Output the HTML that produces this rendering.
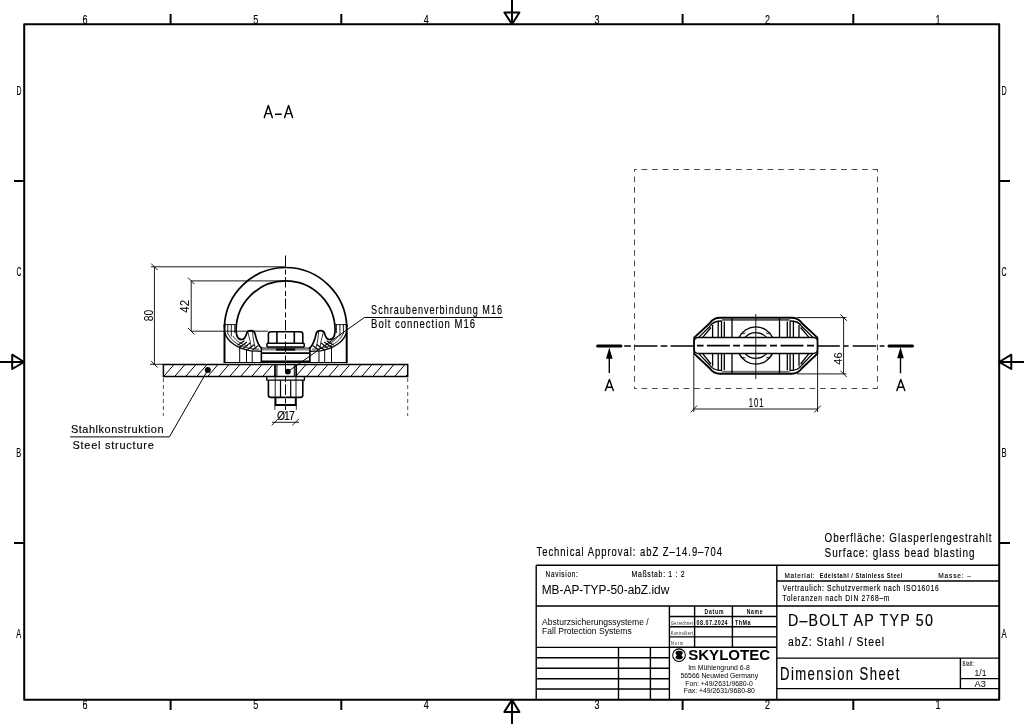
<!DOCTYPE html>
<html><head><meta charset="utf-8">
<style>
html,body{margin:0;padding:0;background:#fff;width:1024px;height:724px;overflow:hidden}
svg{display:block;will-change:transform}
text{font-family:"Liberation Sans",sans-serif;fill:#000}
</style></head>
<body>
<svg width="1024" height="724" viewBox="0 0 1024 724">
<rect width="1024" height="724" fill="#fff"/>

<g fill="none" stroke="#000" stroke-width="2" stroke-linejoin="round">
<rect x="24.2" y="24.2" width="975" height="675.5"/>
<path d="M170.6 14V24.2M341.3 14V24.2M682.6 14V24.2M853.3 14V24.2"/>
<path d="M170.6 699.7V710M341.3 699.7V710M682.6 699.7V710M853.3 699.7V710"/>
<path d="M14 181H24.2M14 543H24.2M999.2 181H1010M999.2 543H1010"/>
<path d="M512 0V24.2M504.4 12.5H519.4L512 24.2Z"/>
<path d="M512 724V699.7M504.4 711.9H519.4L512 699.7Z"/>
<path d="M0 362H24.2M12.2 354.7V369L24.2 362Z"/>
<path d="M1024 362H999.2M1011.3 354.7V369L999.2 362Z"/>
</g>
<g>
<text transform="translate(82.61,23.70) scale(0.7327827134225083,1)" x="0" y="0" textLength="8.32" lengthAdjust="spacing" font-size="12.35" stroke="#000" stroke-width="0.15" >6</text>
<text transform="translate(82.61,709.20) scale(0.7242619841966633,1)" x="0" y="0" textLength="8.42" lengthAdjust="spacing" font-size="12.50" stroke="#000" stroke-width="0.15" >6</text>
<text transform="translate(253.21,23.70) scale(0.7327827134225043,1)" x="0" y="0" textLength="8.32" lengthAdjust="spacing" font-size="12.35" stroke="#000" stroke-width="0.15" >5</text>
<text transform="translate(253.21,709.20) scale(0.7242619841966594,1)" x="0" y="0" textLength="8.42" lengthAdjust="spacing" font-size="12.50" stroke="#000" stroke-width="0.15" >5</text>
<text transform="translate(423.81,23.70) scale(0.7327827134225003,1)" x="0" y="0" textLength="8.32" lengthAdjust="spacing" font-size="12.35" stroke="#000" stroke-width="0.15" >4</text>
<text transform="translate(423.81,709.20) scale(0.7242619841966556,1)" x="0" y="0" textLength="8.42" lengthAdjust="spacing" font-size="12.50" stroke="#000" stroke-width="0.15" >4</text>
<text transform="translate(594.41,23.70) scale(0.7327827134225003,1)" x="0" y="0" textLength="8.32" lengthAdjust="spacing" font-size="12.35" stroke="#000" stroke-width="0.15" >3</text>
<text transform="translate(594.41,709.20) scale(0.7242619841966556,1)" x="0" y="0" textLength="8.42" lengthAdjust="spacing" font-size="12.50" stroke="#000" stroke-width="0.15" >3</text>
<text transform="translate(765.01,23.70) scale(0.7327827134225003,1)" x="0" y="0" textLength="8.32" lengthAdjust="spacing" font-size="12.35" stroke="#000" stroke-width="0.15" >2</text>
<text transform="translate(765.01,709.20) scale(0.7242619841966556,1)" x="0" y="0" textLength="8.42" lengthAdjust="spacing" font-size="12.50" stroke="#000" stroke-width="0.15" >2</text>
<text transform="translate(935.61,23.70) scale(0.7327827134225003,1)" x="0" y="0" textLength="8.32" lengthAdjust="spacing" font-size="12.35" stroke="#000" stroke-width="0.15" >1</text>
<text transform="translate(935.61,709.20) scale(0.7242619841966556,1)" x="0" y="0" textLength="8.42" lengthAdjust="spacing" font-size="12.50" stroke="#000" stroke-width="0.15" >1</text>
<text transform="translate(16.38,94.80) scale(0.5472411088573362,1)" x="0" y="0" textLength="10.96" lengthAdjust="spacing" font-size="12.50" stroke="#000" stroke-width="0.15" >D</text>
<text transform="translate(1001.57,94.80) scale(0.5682888438133973,1)" x="0" y="0" textLength="10.91" lengthAdjust="spacing" font-size="12.50" stroke="#000" stroke-width="0.15" >D</text>
<text transform="translate(16.38,275.80) scale(0.5472411088573345,1)" x="0" y="0" textLength="10.96" lengthAdjust="spacing" font-size="12.50" stroke="#000" stroke-width="0.15" >C</text>
<text transform="translate(1001.57,275.80) scale(0.5682888438133954,1)" x="0" y="0" textLength="10.91" lengthAdjust="spacing" font-size="12.50" stroke="#000" stroke-width="0.15" >C</text>
<text transform="translate(16.36,456.80) scale(0.5925106881405546,1)" x="0" y="0" textLength="10.13" lengthAdjust="spacing" font-size="12.50" stroke="#000" stroke-width="0.15" >B</text>
<text transform="translate(1001.55,456.80) scale(0.6152995607613556,1)" x="0" y="0" textLength="10.08" lengthAdjust="spacing" font-size="12.50" stroke="#000" stroke-width="0.15" >B</text>
<text transform="translate(16.36,637.80) scale(0.5925106881405624,1)" x="0" y="0" textLength="10.13" lengthAdjust="spacing" font-size="12.50" stroke="#000" stroke-width="0.15" >A</text>
<text transform="translate(1001.55,637.80) scale(0.6152995607613637,1)" x="0" y="0" textLength="10.08" lengthAdjust="spacing" font-size="12.50" stroke="#000" stroke-width="0.15" >A</text>
</g>
<g fill="none" stroke="#000" stroke-width="1.4">
<path d="M536.2 565.2H999.2M536.2 565.2V699.7"/>
<path d="M536.2 606H999.2M776.8 565.2V699.7M776.8 581H999.2"/>
<path d="M776.8 658.1H999.2M960.4 658.1V688.6M960.4 678.6H999.2M776.8 688.6H999.2"/>
<path d="M669.4 606V699.7M536.2 647.4H669.4"/>
<path d="M669.4 616.5H776.8M669.4 626.8H776.8M669.4 636.9H776.8M669.4 647.3H776.8M694.6 606V647.3M732.4 606V647.3"/>
<path d="M536.2 657.8H669.4M536.2 668.2H669.4M536.2 678.7H669.4M536.2 689H669.4M618.5 647.4V699.7M650.4 647.4V699.7"/>
</g>
<g>
<text transform="translate(536.50,556.10) scale(0.7400679874944116,1)" x="0" y="0" textLength="250.79" lengthAdjust="spacing" font-size="12.79" stroke="#000" stroke-width="0.15" >Technical Approval: abZ Z–14.9–704</text>
<text transform="translate(824.61,542.00) scale(0.7310737053767196,1)" x="0" y="0" textLength="228.29" lengthAdjust="spacing" font-size="13.52" stroke="#000" stroke-width="0.15" >Oberfläche: Glasperlengestrahlt</text>
<text transform="translate(824.58,556.60) scale(0.7975117357170597,1)" x="0" y="0" textLength="187.96" lengthAdjust="spacing" font-size="12.50" stroke="#000" stroke-width="0.15" >Surface: glass bead blasting</text>
<text transform="translate(545.60,576.50) scale(0.7478396928506916,1)" x="0" y="0" textLength="43.06" lengthAdjust="spacing" font-size="8.58" stroke="#000" stroke-width="0.15" >Navision:</text>
<text transform="translate(631.48,576.50) scale(0.8015077153992609,1)" x="0" y="0" textLength="66.25" lengthAdjust="spacing" font-size="8.58" stroke="#000" stroke-width="0.15" >Maßstab: 1 : 2</text>
<text x="541.70" y="593.80" textLength="127.60" lengthAdjust="spacingAndGlyphs" font-size="12.79" >MB-AP-TYP-50-abZ.idw</text>
<text transform="translate(784.48,577.90) scale(0.8029102644733357,1)" x="0" y="0" textLength="37.49" lengthAdjust="spacing" font-size="7.99" stroke="#000" stroke-width="0.15" >Material:</text>
<text transform="translate(819.65,578.00) scale(0.8707836145618637,1)" x="0" y="0" textLength="94.86" lengthAdjust="spacing" font-size="6.40" font-weight="bold" >Edelstahl / Stainless Steel</text>
<text transform="translate(938.17,577.90) scale(0.8261842493681544,1)" x="0" y="0" textLength="39.58" lengthAdjust="spacing" font-size="7.99" stroke="#000" stroke-width="0.15" >Masse: –</text>
<text transform="translate(782.61,591.00) scale(0.7292010440257988,1)" x="0" y="0" textLength="214.07" lengthAdjust="spacing" font-size="9.30" stroke="#000" stroke-width="0.15" >Vertraulich: Schutzvermerk nach ISO16016</text>
<text transform="translate(782.61,601.20) scale(0.7288707220066777,1)" x="0" y="0" textLength="146.53" lengthAdjust="spacing" font-size="9.16" stroke="#000" stroke-width="0.15" >Toleranzen nach DIN 2768–m</text>
<text transform="translate(787.95,626.40) scale(0.87,1)" x="0" y="0" textLength="166.55" lengthAdjust="spacing" font-size="16.42" stroke="#000" stroke-width="0.15" >D–BOLT AP TYP 50</text>
<text transform="translate(787.99,645.90) scale(0.7712150416623929,1)" x="0" y="0" textLength="124.48" lengthAdjust="spacing" font-size="13.52" stroke="#000" stroke-width="0.15" >abZ: Stahl / Steel</text>
<text transform="translate(780.02,680.00) scale(0.7,1)" x="0" y="0" textLength="170.57" lengthAdjust="spacing" font-size="18.75" stroke="#000" stroke-width="0.15" >Dimension Sheet</text>
<text transform="translate(962.62,666.40) scale(0.7,1)" x="0" y="0" textLength="16.29" lengthAdjust="spacing" font-size="6.40" fill="#666" stroke="#666" stroke-width="0.15" >Blatt:</text>
<text x="974.60" y="675.70" textLength="11.80" lengthAdjust="spacingAndGlyphs" font-size="8.28" >1/1</text>
<text x="974.60" y="687.40" textLength="11.30" lengthAdjust="spacingAndGlyphs" font-size="8.87" >A3</text>
<text x="542.10" y="624.60" textLength="106.60" lengthAdjust="spacingAndGlyphs" font-size="9.01" fill="#111" >Absturzsicherungssysteme /</text>
<text x="542.10" y="633.90" textLength="89.60" lengthAdjust="spacingAndGlyphs" font-size="8.58" fill="#111" >Fall Protection Systems</text>
<text transform="translate(704.52,614.30) scale(0.7,1)" x="0" y="0" textLength="27.14" lengthAdjust="spacing" font-size="7.27" font-weight="bold" >Datum</text>
<text transform="translate(746.72,614.30) scale(0.7,1)" x="0" y="0" textLength="22.57" lengthAdjust="spacing" font-size="7.27" font-weight="bold" >Name</text>
<text transform="translate(696.62,624.90) scale(0.7,1)" x="0" y="0" textLength="44.29" lengthAdjust="spacing" font-size="7.70" font-weight="bold" >08.07.2024</text>
<text transform="translate(735.02,624.90) scale(0.7,1)" x="0" y="0" textLength="22.14" lengthAdjust="spacing" font-size="7.70" font-weight="bold" >ThMa</text>
<text transform="translate(671.12,624.60) scale(0.7,1)" x="0" y="0" textLength="31.00" lengthAdjust="spacing" font-size="5.23" fill="#8a8a8a" stroke="#fff" stroke-width="0.01" >Gezeichnet</text>
<text transform="translate(671.12,634.80) scale(0.701945078489478,1)" x="0" y="0" textLength="30.91" lengthAdjust="spacing" font-size="5.23" fill="#8a8a8a" stroke="#fff" stroke-width="0.01" >Kontrolliert</text>
<text transform="translate(671.10,644.80) scale(0.7565834023172223,1)" x="0" y="0" textLength="15.86" lengthAdjust="spacing" font-size="5.09" fill="#8a8a8a" stroke="#fff" stroke-width="0.01" >Norm</text>
<circle cx="679" cy="655.2" r="6.35" fill="none" stroke="#000" stroke-width="1.05"/>
<path d="M675.5 652.8 C675.5 650.2 682.8 650.2 682.8 652.8 C682.8 654.2 681.6 654.5 681.6 655.2 C681.6 655.9 682.8 656.2 682.8 657.6 C682.8 660.2 675.5 660.2 675.5 657.6 C675.5 656.2 676.7 655.9 676.7 655.2 C676.7 654.5 675.5 654.2 675.5 652.8 Z" fill="#000"/>
<text x="688.20" y="660.20" textLength="82.00" lengthAdjust="spacingAndGlyphs" font-size="14.10" font-weight="bold" >SKYLOTEC</text>
<text x="688.20" y="669.90" textLength="61.60" lengthAdjust="spacingAndGlyphs" font-size="6.83" fill="#000" >Im Mühlengrund 6-8</text>
<text x="680.50" y="677.80" textLength="77.60" lengthAdjust="spacingAndGlyphs" font-size="7.41" fill="#000" >56566 Neuwied Germany</text>
<text x="685.30" y="685.60" textLength="67.40" lengthAdjust="spacingAndGlyphs" font-size="7.56" fill="#000" >Fon: +49/2631/9680-0</text>
<text x="683.70" y="693.10" textLength="71.20" lengthAdjust="spacingAndGlyphs" font-size="7.41" fill="#000" >Fax: +49/2631/9680-80</text>
</g>
<path d="M264.3 117.6 L268.3 105.6 L272.3 117.6 M265.6 113.6 H271 M275.6 114.2 H281.2 M284.6 117.6 L288.6 105.6 L292.6 117.6 M285.9 113.6 H291.3" fill="none" stroke="#000" stroke-width="1.45" stroke-linecap="round" stroke-linejoin="round"/>
<g><path d="M224.4 327 A61.3 61.3 0 0 1 285.6 267.5" fill="none" stroke="#000" stroke-width="1.7"/>
<path d="M224.5 324.5 V363.2" fill="none" stroke="#000" stroke-width="2"/>
<path d="M224.5 324.6 H237.2 M227.8 324.6 V334 M231.3 324.6 V336.5 M234.8 324.6 V333" fill="none" stroke="#000" stroke-width="0.9"/>
<path d="M285.6 280.9 A49.5 49.5 0 0 0 236.1 330.4 C236.3 336.5 238.5 339.6 241.6 339.6 C244.6 339.6 246 336 246.8 333 C247.6 330 253.8 329.8 254.9 333.2 C256 337.5 257 344.5 262 348.6" fill="none" stroke="#000" stroke-width="1.7"/>
<path d="M224.6 332 C227 341 236 348.3 250.7 350.8 L262 351.3" fill="none" stroke="#000" stroke-width="1.3"/>
<path d="M228.3 334 C231.5 341.5 239.5 346.6 251.5 348.8 L259 349.2 M233 336 C236 341 242 344.5 248 346 M248 332.5 C249.5 338 250.5 343 251.5 348.5 M252.5 331.5 C253 337 253.5 342 255.5 348.6" fill="none" stroke="#000" stroke-width="0.8"/>
<path d="M243.2 348.4 L250 343 M247.5 349.5 L254.5 344.5 M252.5 350 L258.5 345.5 M237.5 345.3 L244.5 340.8 M240 347 L247 342" fill="none" stroke="#000" stroke-width="1.1"/>
<path d="M239.7 345.8 V362.5 M246.5 349.2 V362.5 M252.2 350.3 V362.5 M261.4 348.6 V362.5" fill="none" stroke="#000" stroke-width="1"/>
<path d="M224.5 362.5 H285.6" fill="none" stroke="#000" stroke-width="1.1"/>
<path d="M261.4 347.2 V362.5" fill="none" stroke="#000" stroke-width="1.5"/>
<path d="M262 361.3 H285.6 M262 353.1 H285.6" fill="none" stroke="#000" stroke-width="1.8"/>
<path d="M262 348.1 H285.6" fill="none" stroke="#000" stroke-width="1.1"/>
<rect x="262" y="348.6" width="23.6" height="1.9" fill="#888"/>
<rect x="276" y="348.4" width="9.6" height="2.2" fill="#000"/>
<path d="M268.4 343.3 V334.3 Q268.4 331.8 270.9 331.8 H285.6 M276.9 332 V343.3" fill="none" stroke="#000" stroke-width="1.6"/>
<path d="M267 343.3 H285.6 M267 347.1 H285.6 M267 343.3 V347.1" fill="none" stroke="#000" stroke-width="1.5"/>
<path d="M266.8 376.6 V380.2 H285.6" fill="none" stroke="#000" stroke-width="1.3"/>
<path d="M268.4 380.2 V395 Q268.4 397.4 271 397.4 H285.6" fill="none" stroke="#000" stroke-width="1.6"/>
<path d="M280.5 380.2 V397.4" fill="none" stroke="#000" stroke-width="1.2"/>
<path d="M275.2 364.6 V405" fill="none" stroke="#000" stroke-width="0.9"/>
<path d="M276.9 364.6 V376.5" fill="none" stroke="#000" stroke-width="1"/>
<path d="M275.5 397.4 V405 H285.6" fill="none" stroke="#000" stroke-width="1.9"/>
<path d="M274.9 405 V410" fill="none" stroke="#000" stroke-width="0.8"/></g>
<g transform="translate(571.2,0) scale(-1,1)"><path d="M224.4 327 A61.3 61.3 0 0 1 285.6 267.5" fill="none" stroke="#000" stroke-width="1.7"/>
<path d="M224.5 324.5 V363.2" fill="none" stroke="#000" stroke-width="2"/>
<path d="M224.5 324.6 H237.2 M227.8 324.6 V334 M231.3 324.6 V336.5 M234.8 324.6 V333" fill="none" stroke="#000" stroke-width="0.9"/>
<path d="M285.6 280.9 A49.5 49.5 0 0 0 236.1 330.4 C236.3 336.5 238.5 339.6 241.6 339.6 C244.6 339.6 246 336 246.8 333 C247.6 330 253.8 329.8 254.9 333.2 C256 337.5 257 344.5 262 348.6" fill="none" stroke="#000" stroke-width="1.7"/>
<path d="M224.6 332 C227 341 236 348.3 250.7 350.8 L262 351.3" fill="none" stroke="#000" stroke-width="1.3"/>
<path d="M228.3 334 C231.5 341.5 239.5 346.6 251.5 348.8 L259 349.2 M233 336 C236 341 242 344.5 248 346 M248 332.5 C249.5 338 250.5 343 251.5 348.5 M252.5 331.5 C253 337 253.5 342 255.5 348.6" fill="none" stroke="#000" stroke-width="0.8"/>
<path d="M243.2 348.4 L250 343 M247.5 349.5 L254.5 344.5 M252.5 350 L258.5 345.5 M237.5 345.3 L244.5 340.8 M240 347 L247 342" fill="none" stroke="#000" stroke-width="1.1"/>
<path d="M239.7 345.8 V362.5 M246.5 349.2 V362.5 M252.2 350.3 V362.5 M261.4 348.6 V362.5" fill="none" stroke="#000" stroke-width="1"/>
<path d="M224.5 362.5 H285.6" fill="none" stroke="#000" stroke-width="1.1"/>
<path d="M261.4 347.2 V362.5" fill="none" stroke="#000" stroke-width="1.5"/>
<path d="M262 361.3 H285.6 M262 353.1 H285.6" fill="none" stroke="#000" stroke-width="1.8"/>
<path d="M262 348.1 H285.6" fill="none" stroke="#000" stroke-width="1.1"/>
<rect x="262" y="348.6" width="23.6" height="1.9" fill="#888"/>
<rect x="276" y="348.4" width="9.6" height="2.2" fill="#000"/>
<path d="M268.4 343.3 V334.3 Q268.4 331.8 270.9 331.8 H285.6 M276.9 332 V343.3" fill="none" stroke="#000" stroke-width="1.6"/>
<path d="M267 343.3 H285.6 M267 347.1 H285.6 M267 343.3 V347.1" fill="none" stroke="#000" stroke-width="1.5"/>
<path d="M266.8 376.6 V380.2 H285.6" fill="none" stroke="#000" stroke-width="1.3"/>
<path d="M268.4 380.2 V395 Q268.4 397.4 271 397.4 H285.6" fill="none" stroke="#000" stroke-width="1.6"/>
<path d="M280.5 380.2 V397.4" fill="none" stroke="#000" stroke-width="1.2"/>
<path d="M275.2 364.6 V405" fill="none" stroke="#000" stroke-width="0.9"/>
<path d="M276.9 364.6 V376.5" fill="none" stroke="#000" stroke-width="1"/>
<path d="M275.5 397.4 V405 H285.6" fill="none" stroke="#000" stroke-width="1.9"/>
<path d="M274.9 405 V410" fill="none" stroke="#000" stroke-width="0.8"/></g>
<clipPath id="plateclip"><path d="M163.4 364.6 H274.9 V376.5 H163.4Z M296.3 364.6 H407.7 V376.5 H296.3Z"/></clipPath>
<g clip-path="url(#plateclip)"><path d="M130.6 376.6 L141.1 364.4 M141.6 376.6 L152.1 364.4 M152.6 376.6 L163.1 364.4 M163.6 376.6 L174.1 364.4 M174.6 376.6 L185.1 364.4 M185.6 376.6 L196.1 364.4 M196.6 376.6 L207.1 364.4 M207.6 376.6 L218.1 364.4 M218.6 376.6 L229.1 364.4 M229.6 376.6 L240.1 364.4 M240.6 376.6 L251.1 364.4 M251.6 376.6 L262.1 364.4 M262.6 376.6 L273.1 364.4 M273.6 376.6 L284.1 364.4 M284.6 376.6 L295.1 364.4 M295.6 376.6 L306.1 364.4 M306.6 376.6 L317.1 364.4 M317.6 376.6 L328.1 364.4 M328.6 376.6 L339.1 364.4 M339.6 376.6 L350.1 364.4 M350.6 376.6 L361.1 364.4 M361.6 376.6 L372.1 364.4 M372.6 376.6 L383.1 364.4 M383.6 376.6 L394.1 364.4 M394.6 376.6 L405.1 364.4 M405.6 376.6 L416.1 364.4 M416.6 376.6 L427.1 364.4" stroke="#000" stroke-width="1" fill="none"/></g>
<path d="M163.4 364.6 H407.7 V376.5 H163.4Z M274.9 364.6 V376.5 M296.3 364.6 V376.5" fill="none" stroke="#000" stroke-width="1.5"/>
<path d="M163.4 378 V416 M407.7 378 V416" stroke="#555" stroke-width="1" stroke-dasharray="4 3" fill="none"/>
<path d="M285.5 255.5 V410" stroke="#000" stroke-width="1" stroke-dasharray="10.5 3.5 5 2.5" fill="none"/>
<defs><pattern id="hatchS" patternUnits="userSpaceOnUse" width="3" height="3" patternTransform="rotate(-35)"><rect width="3" height="3" fill="#fff"/><line x1="0" y1="0" x2="0" y2="3" stroke="#000" stroke-width="1"/></pattern></defs>
<path d="M151 266.8 H286 M150 364.3 H163 M154.4 266.8 V364.3 M151.2 263.6 L157.6 270.0 M151.2 361.1 L157.6 367.5 M191.2 280.9 H286 M191.2 331.2 H268 M191.2 280.9 V331.2 M188.0 277.7 L194.4 284.1 M188.0 328.0 L194.4 334.4 M272 422.3 H299 M271.8 425.4 L277.9 419.2 M292.3 425.4 L298.8 419" stroke="#000" stroke-width="0.9" fill="none"/>
<text transform="translate(152.50,321.20) rotate(-90)" x="0" y="0" font-size="13.23" textLength="11.40" lengthAdjust="spacingAndGlyphs" >80</text>
<text transform="translate(189.00,312.80) rotate(-90)" x="0" y="0" font-size="12.65" textLength="12.90" lengthAdjust="spacingAndGlyphs" >42</text>
<text transform="translate(277.06,419.50) scale(0.85,1)" x="0" y="0" textLength="20.71" lengthAdjust="spacing" font-size="12.21" stroke="#000" stroke-width="0.15" >Ø17</text>
<path d="M207.7 370.2 L169.4 436.9 H70.2" stroke="#000" stroke-width="1" fill="none"/>
<circle cx="207.8" cy="370" r="3" fill="#000"/>
<path d="M287.9 371.6 L364.4 317.5 H502.6" stroke="#000" stroke-width="1" fill="none"/>
<circle cx="287.9" cy="371.6" r="2.9" fill="#000"/>
<text transform="translate(70.88,433.40) scale(0.93,1)" x="0" y="0" textLength="99.62" lengthAdjust="spacing" font-size="11.77" stroke="#000" stroke-width="0.15" >Stahlkonstruktion</text>
<text transform="translate(72.41,449.40) scale(0.97,1)" x="0" y="0" textLength="83.92" lengthAdjust="spacing" font-size="11.34" stroke="#000" stroke-width="0.15" >Steel structure</text>
<text transform="translate(371.12,314.40) scale(0.7035151539695473,1)" x="0" y="0" textLength="186.07" lengthAdjust="spacing" font-size="12.94" stroke="#000" stroke-width="0.15" >Schraubenverbindung M16</text>
<text transform="translate(371.09,328.00) scale(0.7828332941747072,1)" x="0" y="0" textLength="132.72" lengthAdjust="spacing" font-size="12.21" stroke="#000" stroke-width="0.15" >Bolt connection M16</text>
<path d="M634 169.5 H877.5 M634.5 169 V388.5 M877.5 169 V388.5 M634 388.5 H877.5" fill="none" stroke="#4a4a4a" stroke-width="1" stroke-dasharray="5.8 4.7" stroke-dashoffset="3"/>
<path d="M624.2 346H630.9M634.2 346H657.4M660.7 346H667.3M670.6 346H694.2M817.4 346H839.8M844 346H848.6M852.7 346H876.2M879.7 346H884.4" stroke="#000" stroke-width="1.7" fill="none"/>
<path d="M597.6 346 H621 M889 346 H912.5" stroke="#000" stroke-width="3" stroke-linecap="round" fill="none"/>
<path d="M609.3 373 V358 M900.5 373.3 V358" stroke="#000" stroke-width="1.4" fill="none"/>
<path d="M609.3 347.6 L606 358.7 H612.6Z M900.5 347 L897.2 358.2 H903.8Z" fill="#000"/>
<path d="M605.4 390.6 L609.4 379.4 L613.3 390.6 M606.6 387.2 H612.2 M896.9 390.6 L900.8 379.4 L904.8 390.6 M898.1 387.2 H903.6" fill="none" stroke="#000" stroke-width="1.4" stroke-linecap="round" stroke-linejoin="round"/>
<g><path d="M694.2 337.6 L709.7 323.3 Q713.5 317.8 720 317.8 H791.6 Q798.1 317.8 801.9 323.3 L817.4 337.6 V353.6 L801.9 368.3 Q798.1 373.8 791.6 373.8 H720 Q713.5 373.8 709.7 368.3 L694.2 353.6 Z" fill="none" stroke="#000" stroke-width="1.9" stroke-linejoin="round"/>
<rect x="722" y="318.2" width="67.6" height="2.6" fill="#555"/>
<rect x="722" y="370.8" width="67.6" height="2.4" fill="#777"/>
<path d="M739.0 337.6 A18.5 18.5 0 0 1 772.6 337.6 M739.0 353.4 A18.5 18.5 0 0 0 772.6 353.4" fill="none" stroke="#000" stroke-width="1.4"/>
<path d="M744.9 337.6 A14.3 14.3 0 0 1 766.7 337.6 M744.9 353.4 A14.3 14.3 0 0 0 766.7 353.4" fill="none" stroke="#000" stroke-width="1.3"/>
<path d="M741.5 334 L745.5 333 M770 334 L766 333 M741.5 357 L745.5 358 M770 357 L766 358" fill="none" stroke="#000" stroke-width="0.8"/>
<path d="M732 318 V337.6 M732 353.4 V373.5 M779.5 318 V337.6 M779.5 353.4 V373.5" stroke="#000" stroke-width="1.3" fill="none"/>
<path d="M712.6 325.0 V337.6 M712.6 353.4 V366.5 M718.2 321.5 V337.6 M718.2 353.4 V370.2 M721.5 321.5 V337.6 M721.5 353.4 V370.2 M724.3 321.5 V337.6 M724.3 353.4 V370.2" stroke="#000" stroke-width="1.3" fill="none"/>
<path d="M698.5 337.6 L710.2 326 M702.5 337.6 L711.0 327.5 M698.5 353.4 L710.2 365.5 M702.5 353.4 L711.0 364" stroke="#000" stroke-width="1.3" fill="none"/>
<path d="M710.2 326 Q713.0 321 722.0 321 M710.2 365.5 Q713.0 370.5 722.0 370.5" stroke="#000" stroke-width="1.3" fill="none"/>
<path d="M799.0 325.0 V337.6 M799.0 353.4 V366.5 M793.4 321.5 V337.6 M793.4 353.4 V370.2 M790.1 321.5 V337.6 M790.1 353.4 V370.2 M787.3 321.5 V337.6 M787.3 353.4 V370.2" stroke="#000" stroke-width="1.3" fill="none"/>
<path d="M813.1 337.6 L801.4 326 M809.1 337.6 L800.6 327.5 M813.1 353.4 L801.4 365.5 M809.1 353.4 L800.6 364" stroke="#000" stroke-width="1.3" fill="none"/>
<path d="M801.4 326 Q798.6 321 789.6 321 M801.4 365.5 Q798.6 370.5 789.6 370.5" stroke="#000" stroke-width="1.3" fill="none"/>
<rect x="694.2" y="337.6" width="123.2" height="15.8" rx="4" fill="#fff" stroke="#000" stroke-width="1.5"/>
<path d="M697 345.6H703.6M706.9 345.6H730M733.2 345.6H740M743.5 345.6H766.5M770 345.6H777M780.5 345.6H803.5M807 345.6H814" stroke="#000" stroke-width="1.9" fill="none"/></g>
<path d="M755.8 314 V379" stroke="#000" stroke-width="0.9" fill="none"/>
<path d="M796.9 317.6 H846.5 M796.9 373.9 H846.5 M843.6 317.6 V373.9 M840.4 314.4 L846.8 320.8 M840.4 370.7 L846.8 377.1 M693.8 354 V412 M817.6 354 V412 M693.8 409 H817.6 M690.6 412.4 L697 405.6 M814.4 412.4 L820.8 405.6" stroke="#000" stroke-width="0.9" fill="none"/>
<text transform="translate(841.50,364.70) rotate(-90)" x="0" y="0" font-size="11.77" textLength="12.50" lengthAdjust="spacingAndGlyphs" >46</text>
<text transform="translate(748.65,406.90) scale(0.62,1)" x="0" y="0" textLength="24.03" lengthAdjust="spacing" font-size="12.35" stroke="#000" stroke-width="0.15" >101</text>
</svg>
</body></html>
